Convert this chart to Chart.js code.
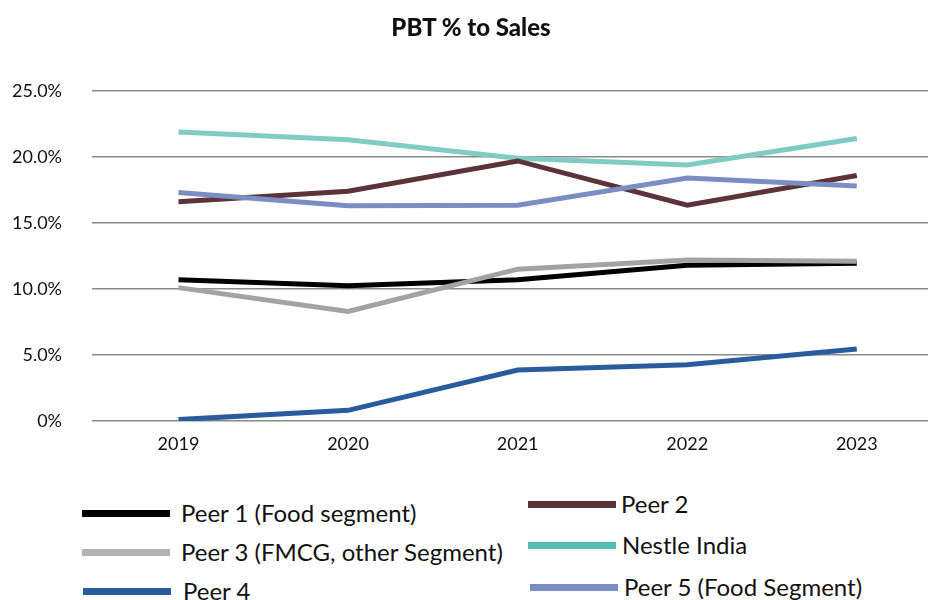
<!DOCTYPE html>
<html>
<head>
<meta charset="utf-8">
<script src="https://cdn.jsdelivr.net/npm/chart.js@4/dist/chart.umd.min.js"></script>
<style>
  body { margin: 0; background: #fff; width: 928px; height: 600px; overflow: hidden; position: relative; font-family: Lato, "Liberation Sans", sans-serif; }
  #wrap { position: absolute; left: 0; top: 0; width: 928px; height: 470px; }
  #title { position: absolute; left: 0; width: 942px; top: 12px; text-align: center; font-size: 24px; font-weight: 900; color: #111; line-height: 30px; }
  .item { position: absolute; font-size: 24px; color: #111; white-space: nowrap; line-height: 28px; }
  .sw { position: absolute; height: 7px; }
</style>
</head>
<body>
<div id="wrap"><canvas id="pbtChart" width="928" height="470"></canvas></div>
<div id="title">PBT % to Sales</div>
<div id="legend"></div>
<script>
var years = [2019, 2020, 2021, 2022, 2023];
var yTicks = [0, 5, 10, 15, 20, 25];

var peer1 = [10.7, 10.25, 10.7, 11.8, 11.95];
var peer2 = [16.6, 17.4, 19.7, 16.35, 18.6];
var peer3 = [10.1, 8.3, 11.5, 12.2, 12.1];
var nestle = [21.9, 21.3, 19.9, 19.4, 21.4];
var peer4 = [0.1, 0.8, 3.85, 4.25, 5.45];
var peer5 = [17.3, 16.3, 16.35, 18.4, 17.8];

function pts(arr) {
  var out = [];
  for (var i = 0; i < years.length; ++i) {
    out.push({x: years[i], y: arr[i]});
  }
  return out;
}

var series = [
  {label: "Peer 1 (Food segment)", data: peer1, color: "#000000", legendColor: "#000000"},
  {label: "Peer 2", data: peer2, color: "#5c3338", legendColor: "#5c3338"},
  {label: "Peer 3 (FMCG, other Segment)", data: peer3, color: "#a3a3a3", legendColor: "#b3b3b3"},
  {label: "Nestle India", data: nestle, color: "#80cbc3", legendColor: "#52bdb5"},
  {label: "Peer 4", data: peer4, color: "#2a5c9d", legendColor: "#2a5c9d"},
  {label: "Peer 5 (Food Segment)", data: peer5, color: "#7a8ec4", legendColor: "#7a8ec4"}
];

var datasets = [];
// draw order: lower ones first
var order = [5, 1, 3, 2, 0, 4];
for (var k = 0; k < order.length; ++k) {
  var s = series[order[k]];
  datasets.push({
    label: s.label,
    data: pts(s.data),
    borderColor: s.color,
    backgroundColor: s.color,
    borderWidth: 5,
    pointRadius: 0,
    tension: 0,
    fill: false
  });
}

var ctx = document.getElementById("pbtChart");
var pbtChart = new Chart(ctx, {
  type: 'line',
  data: {datasets: datasets},
  options: {
    responsive: false,
    animation: false,
    layout: {padding: {top: 91, right: 0, bottom: 3.5, left: 0}},
    plugins: {
      legend: {display: false},
      tooltip: {enabled: false},
      title: {display: false}
    },
    scales: {
      x: {
        type: 'linear',
        min: 2018.49,
        max: 2023.42,
        afterBuildTicks: function (scale) {
          scale.ticks = years.map(function (v) { return {value: v}; });
        },
        grid: {display: false, drawTicks: false},
        border: {display: false},
        ticks: {
          color: "#111",
          font: {family: "Lato", size: 18},
          padding: 12,
          maxRotation: 0,
          autoSkip: false,
          callback: function (v) { return String(v); }
        }
      },
      y: {
        min: 0,
        max: 25,
        afterBuildTicks: function (scale) {
          scale.ticks = yTicks.map(function (v) { return {value: v}; });
        },
        afterFit: function (scale) { scale.width = 92; },
        grid: {color: "#8a8a8a", lineWidth: 1.5, drawTicks: false},
        border: {display: false},
        ticks: {
          color: "#111",
          font: {family: "Lato", size: 18},
          padding: 30,
          callback: function (v) { return v === 0 ? "0%" : v.toFixed(1) + "%"; }
        }
      }
    }
  }
});

// legend laid out as in the original, two columns
var legendPos = [
  {x: 82, y: 513, tx: 181},
  {x: 528, y: 504, tx: 621},
  {x: 82, y: 552, tx: 181},
  {x: 528, y: 545, tx: 622},
  {x: 83, y: 591, tx: 183},
  {x: 530, y: 587, tx: 624}
];
var legend = document.getElementById("legend");
for (var i = 0; i < series.length; ++i) {
  var p = legendPos[i];
  var sw = document.createElement("div");
  sw.className = "sw";
  sw.style.left = p.x + "px";
  sw.style.top = (p.y - 3) + "px";
  sw.style.width = "88px";
  sw.style.background = series[i].legendColor;
  legend.appendChild(sw);
  var t = document.createElement("div");
  t.className = "item";
  t.style.left = p.tx + "px";
  t.style.top = (p.y - 14) + "px";
  t.textContent = series[i].label;
  legend.appendChild(t);
}
</script>
</body>
</html>
